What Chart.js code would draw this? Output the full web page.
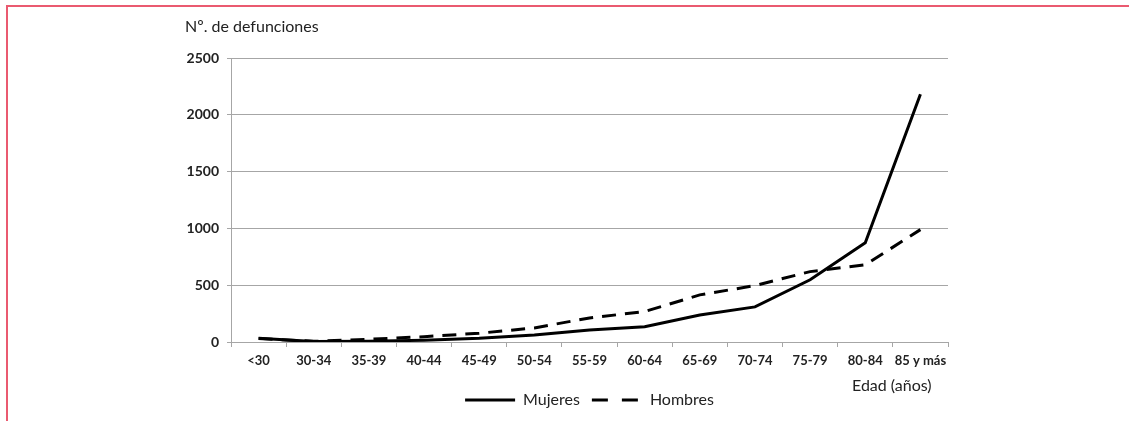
<!DOCTYPE html>
<html>
<head>
<meta charset="utf-8">
<script src="https://cdn.jsdelivr.net/npm/chart.js@4.4.0/dist/chart.umd.min.js"></script>
<style>
  body { margin: 0; background: #fff; }
  #wrap { position: relative; width: 1129px; height: 421px; }
  #frame {
    position: absolute; left: 6px; top: 5px; right: 0; bottom: 0;
    border-top: 2px solid #ea5a70; border-left: 2px solid #ea5a70;
    pointer-events: none;
  }
  canvas { position: absolute; left: 0; top: 0; }
</style>
</head>
<body>
<div id="wrap">
  <canvas id="chart" width="1129" height="421"></canvas>
  <div id="frame"></div>
</div>
<script>
// age groups on the x axis
let ageGroups = ['<30', '30-34', '35-39', '40-44', '45-49', '50-54', '55-59', '60-64', '65-69', '70-74', '75-79', '80-84', '85 y más'];

let mujeres = [32, 4, 6, 16, 32, 62, 106, 135, 238, 309, 548, 875, 2182];
let hombres = [30, 6, 24, 47, 77, 124, 212, 268, 415, 497, 620, 680, 990];

let yTicks = [0, 500, 1000, 1500, 2000, 2500];

const textColor = '#222';
const gridColor = '#a6a6a6';

const ctx = document.querySelector('#chart');

const chart = new Chart(ctx, {
    type: 'line',
    data: {
        labels: ageGroups,
        datasets: [
            {
                label: 'Mujeres',
                data: mujeres,
                borderColor: '#000',
                backgroundColor: '#000',
                borderWidth: 3,
                pointRadius: 0,
                tension: 0
            },
            {
                label: 'Hombres',
                data: hombres,
                borderColor: '#000',
                backgroundColor: '#000',
                borderWidth: 3,
                borderDash: [14, 9],
                pointRadius: 0,
                tension: 0
            }
        ]
    },
    options: {
        responsive: false,
        animation: false,
        layout: { padding: { left: 185, right: 181, top: 0, bottom: 3 } },
        plugins: {
            tooltip: { enabled: false },
            title: {
                display: true,
                text: 'Nº. de defunciones',
                align: 'start',
                color: textColor,
                font: { family: 'Lato', size: 16, weight: 'normal' },
                padding: { top: 17, bottom: 22 }
            },
            legend: {
                position: 'bottom',
                fullSize: false,
                labels: {
                    usePointStyle: true,
                    pointStyle: 'line',
                    pointStyleWidth: 50,
                    boxHeight: 14,
                    color: textColor,
                    font: { family: 'Lato', size: 16 },
                    padding: 12,
                    // point style legend drops the dataset dash, so set it here
                    generateLabels: (c) => {
                        let items = Chart.defaults.plugins.legend.labels.generateLabels(c);
                        items.forEach(it => {
                            it.lineDash = c.data.datasets[it.datasetIndex].borderDash ? [16, 14] : [];
                            it.lineWidth = 3;
                        });
                        return items;
                    }
                }
            }
        },
        scales: {
            x: {
                offset: true,
                afterFit: (scale) => {
                    scale.height = 38;
                },
                ticks: {
                    color: textColor,
                    font: { family: 'Lato', size: 13, weight: 'bold' },
                    maxRotation: 0,
                    autoSkip: false,
                    padding: 6
                },
                grid: {
                    offset: true,
                    drawOnChartArea: false,
                    drawTicks: true,
                    tickLength: 5,
                    color: gridColor,
                    lineWidth: 1
                },
                border: { color: gridColor, width: 1 },
                title: {
                    display: true,
                    text: 'Edad (años)    ',
                    align: 'end',
                    color: textColor,
                    font: { family: 'Lato', size: 16 },
                    padding: { top: 0, bottom: -15 }
                }
            },
            y: {
                min: 0,
                max: 2500,
                afterBuildTicks: (scale) => {
                    scale.ticks = yTicks.map(v => ({ value: v }));
                },
                afterFit: (scale) => {
                    scale.width = 46;
                },
                ticks: {
                    color: textColor,
                    font: { family: 'Lato', size: 14, weight: 'bold' },
                    padding: 8,
                    callback: (v) => String(v)
                },
                grid: {
                    color: gridColor,
                    lineWidth: 1,
                    tickLength: 4
                },
                border: { color: gridColor, width: 1 }
            }
        }
    }
});
</script>
</body>
</html>
